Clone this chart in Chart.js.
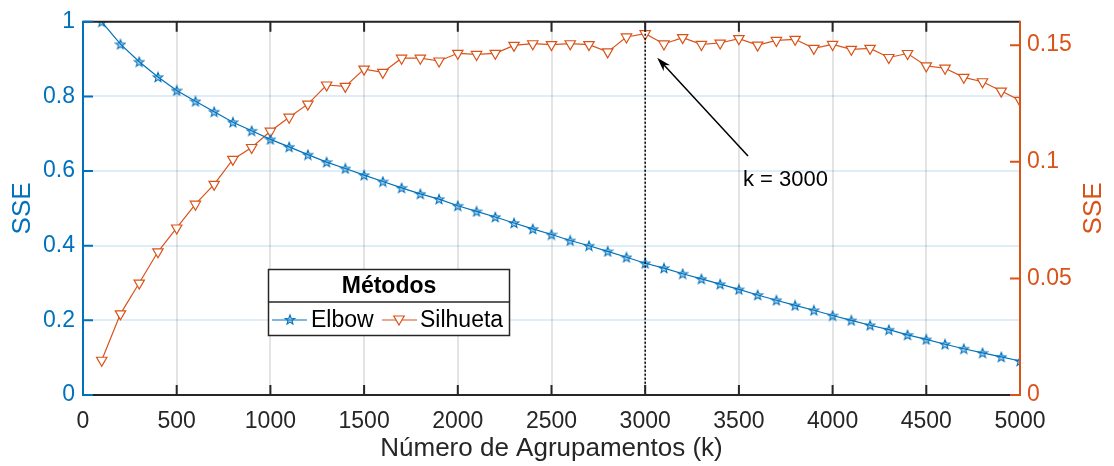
<!DOCTYPE html>
<html>
<head>
<meta charset="utf-8">
<script src="https://cdn.jsdelivr.net/npm/chart.js@4.4.1/dist/chart.umd.min.js"></script>
<style>
  body { margin: 0; background: #fff; }
  #wrap { width: 1114px; height: 466px; }
</style>
</head>
<body>
<div id="wrap"><canvas id="chart" width="1114" height="466"></canvas></div>
<script>
// número de agrupamentos
const kValues = [100, 200, 300, 400, 500, 600, 700, 800, 900, 1000,
  1100, 1200, 1300, 1400, 1500, 1600, 1700, 1800, 1900, 2000,
  2100, 2200, 2300, 2400, 2500, 2600, 2700, 2800, 2900, 3000,
  3100, 3200, 3300, 3400, 3500, 3600, 3700, 3800, 3900, 4000,
  4100, 4200, 4300, 4400, 4500, 4600, 4700, 4800, 4900, 5000];

// SSE normalizado (eixo esquerdo)
const elbowValues = [1.000, 0.940, 0.893, 0.852, 0.816, 0.787, 0.759, 0.731, 0.708, 0.685,
  0.665, 0.644, 0.624, 0.607, 0.589, 0.572, 0.555, 0.539, 0.525, 0.507,
  0.492, 0.477, 0.461, 0.445, 0.430, 0.414, 0.400, 0.385, 0.369, 0.353,
  0.340, 0.325, 0.311, 0.297, 0.283, 0.268, 0.254, 0.240, 0.227, 0.213,
  0.200, 0.187, 0.175, 0.161, 0.149, 0.136, 0.124, 0.113, 0.102, 0.091];

// silhueta (eixo direito)
const silhuetaValues = [0.0149, 0.0348, 0.0480, 0.0614, 0.0716, 0.0818, 0.0903, 0.1010, 0.1061, 0.1131,
  0.1191, 0.1247, 0.1329, 0.1323, 0.1397, 0.1383, 0.1444, 0.1444, 0.1432, 0.1465,
  0.1460, 0.1465, 0.1499, 0.1506, 0.1502, 0.1506, 0.1502, 0.1471, 0.1535, 0.1549,
  0.1505, 0.1532, 0.1503, 0.1509, 0.1528, 0.1500, 0.1520, 0.1525, 0.1486, 0.1503,
  0.1482, 0.1486, 0.1447, 0.1464, 0.1411, 0.1401, 0.1362, 0.1343, 0.1303, 0.1263];

const xTicks = [0, 500, 1000, 1500, 2000, 2500, 3000, 3500, 4000, 4500, 5000];
const leftTicks = [0, 0.2, 0.4, 0.6, 0.8, 1];
const rightTicks = [0, 0.05, 0.1, 0.15];
const bestK = 3000;

const BLUE = '#0072BD';
const ORANGE = '#D95319';
const DARK = '#262626';
const FONT = '"Liberation Sans", Arial, Helvetica, sans-serif';

Chart.defaults.font.family = FONT;

function drawStar(ctx, cx, cy, ro, ri) {
  ctx.beginPath();
  for (let i = 0; i < 10; i++) {
    const r = i % 2 === 0 ? ro : ri;
    const a = -Math.PI / 2 + i * Math.PI / 5;
    const px = cx + r * Math.cos(a), py = cy + r * Math.sin(a);
    if (i === 0) ctx.moveTo(px, py); else ctx.lineTo(px, py);
  }
  ctx.closePath();
  ctx.fillStyle = 'rgba(0,114,189,0.3)';
  ctx.fill();
  ctx.strokeStyle = BLUE;
  ctx.lineWidth = 1.1;
  ctx.stroke();
}

const starImg = document.createElement('canvas');
starImg.width = 12; starImg.height = 12;
drawStar(starImg.getContext('2d'), 6, 6.5, 5, 2.1);

function drawTriangle(ctx, cx, cy, r) {
  ctx.beginPath();
  ctx.moveTo(cx, cy + r);
  ctx.lineTo(cx + r * 0.866, cy - r / 2);
  ctx.lineTo(cx - r * 0.866, cy - r / 2);
  ctx.closePath();
  ctx.fillStyle = '#fff';
  ctx.fill();
  ctx.strokeStyle = ORANGE;
  ctx.lineWidth = 1.2;
  ctx.stroke();
}

const decorations = {
  id: 'decorations',
  afterDatasetsDraw(chart) {
    const ctx = chart.ctx;
    const a = chart.chartArea;
    const x = chart.scales.x, yl = chart.scales.y, yr = chart.scales.y2;
    ctx.save();

    // linha pontilhada em k = 3000
    const kx = x.getPixelForValue(bestK);
    ctx.strokeStyle = '#000';
    ctx.lineWidth = 1.5;
    ctx.setLineDash([2, 2]);
    ctx.beginPath();
    ctx.moveTo(kx, a.top);
    ctx.lineTo(kx, a.bottom);
    ctx.stroke();
    ctx.setLineDash([]);

    // caixa
    ctx.lineWidth = 2;
    ctx.strokeStyle = DARK;
    ctx.beginPath();
    ctx.moveTo(a.left, a.top); ctx.lineTo(a.right, a.top);
    ctx.moveTo(a.left, a.bottom); ctx.lineTo(a.right, a.bottom);
    xTicks.forEach(v => {
      const px = x.getPixelForValue(v);
      ctx.moveTo(px, a.top); ctx.lineTo(px, a.top + 10);
      ctx.moveTo(px, a.bottom); ctx.lineTo(px, a.bottom - 10);
    });
    ctx.stroke();

    ctx.strokeStyle = BLUE;
    ctx.beginPath();
    ctx.moveTo(a.left, a.top - 1); ctx.lineTo(a.left, a.bottom + 1);
    leftTicks.forEach(v => {
      const py = yl.getPixelForValue(v);
      ctx.moveTo(a.left, py); ctx.lineTo(a.left + 10, py);
    });
    ctx.stroke();

    ctx.strokeStyle = ORANGE;
    ctx.beginPath();
    ctx.moveTo(a.right, a.top - 1); ctx.lineTo(a.right, a.bottom + 1);
    rightTicks.forEach(v => {
      const py = yr.getPixelForValue(v);
      ctx.moveTo(a.right, py); ctx.lineTo(a.right - 10, py);
    });
    ctx.stroke();

    // títulos dos eixos
    ctx.font = '26px ' + FONT;
    ctx.textAlign = 'center';
    ctx.textBaseline = 'middle';
    ctx.fillStyle = DARK;
    ctx.fillText('Número de Agrupamentos (k)', (a.left + a.right) / 2, 449);
    const midY = (a.top + a.bottom) / 2;
    [[23, BLUE], [1094, ORANGE]].forEach(([tx, col]) => {
      ctx.save();
      ctx.translate(tx, midY);
      ctx.rotate(-Math.PI / 2);
      ctx.fillStyle = col;
      ctx.fillText('SSE', 0, 0);
      ctx.restore();
    });

    // seta e texto
    const tipX = kx + 12, tipY = yr.getPixelForValue(0.1549) + 24;
    const tailX = 748, tailY = 156;
    const ang = Math.atan2(tipY - tailY, tipX - tailX);
    ctx.strokeStyle = '#000';
    ctx.lineWidth = 1.5;
    ctx.beginPath();
    ctx.moveTo(tailX, tailY);
    ctx.lineTo(tipX - 8 * Math.cos(ang), tipY - 8 * Math.sin(ang));
    ctx.stroke();
    ctx.fillStyle = '#000';
    ctx.beginPath();
    ctx.moveTo(tipX, tipY);
    ctx.lineTo(tipX - 15 * Math.cos(ang - 0.3), tipY - 15 * Math.sin(ang - 0.3));
    ctx.lineTo(tipX - 10 * Math.cos(ang), tipY - 10 * Math.sin(ang));
    ctx.lineTo(tipX - 15 * Math.cos(ang + 0.3), tipY - 15 * Math.sin(ang + 0.3));
    ctx.closePath();
    ctx.fill();
    ctx.font = '22px ' + FONT;
    ctx.textAlign = 'left';
    ctx.fillText('k = 3000', 743, 180);

    // legenda
    ctx.fillStyle = '#fff';
    ctx.fillRect(268, 269, 242, 67);
    ctx.strokeStyle = DARK;
    ctx.lineWidth = 1.5;
    ctx.strokeRect(268.5, 269.5, 241, 66);
    ctx.beginPath();
    ctx.moveTo(268, 302); ctx.lineTo(510, 302);
    ctx.stroke();
    ctx.fillStyle = '#000';
    ctx.font = 'bold 23px ' + FONT;
    ctx.textAlign = 'center';
    ctx.fillText('Métodos', 389, 287);
    ctx.lineWidth = 1.2;
    ctx.strokeStyle = BLUE;
    ctx.beginPath(); ctx.moveTo(272, 320); ctx.lineTo(307, 320); ctx.stroke();
    drawStar(ctx, 290, 320, 5, 2.1);
    ctx.strokeStyle = ORANGE;
    ctx.lineWidth = 1.2;
    ctx.beginPath(); ctx.moveTo(382, 320); ctx.lineTo(417, 320); ctx.stroke();
    drawTriangle(ctx, 399, 319, 6);
    ctx.fillStyle = '#000';
    ctx.font = '23px ' + FONT;
    ctx.textAlign = 'left';
    ctx.fillText('Elbow', 311, 321);
    ctx.fillText('Silhueta', 420, 321);

    ctx.restore();
  }
};

new Chart(document.getElementById('chart'), {
  type: 'line',
  data: {
    datasets: [
      {
        label: 'Elbow',
        data: kValues.map((k, i) => ({ x: k, y: elbowValues[i] })),
        yAxisID: 'y',
        borderColor: BLUE,
        borderWidth: 1.2,
        pointStyle: starImg,
        pointRadius: 5,
        fill: false
      },
      {
        label: 'Silhueta',
        data: kValues.map((k, i) => ({ x: k, y: silhuetaValues[i] })),
        yAxisID: 'y2',
        borderColor: ORANGE,
        borderWidth: 1.2,
        pointStyle: 'triangle',
        pointRotation: 180,
        pointRadius: 6,
        pointBorderWidth: 1.2,
        pointBackgroundColor: '#fff',
        pointBorderColor: ORANGE,
        fill: false
      }
    ]
  },
  options: {
    responsive: false,
    animation: false,
    devicePixelRatio: 1,
    layout: { padding: { top: 19, left: 0, right: 0, bottom: 0 } },
    plugins: { legend: { display: false }, tooltip: { enabled: false } },
    scales: {
      x: {
        type: 'linear',
        min: 0, max: 5000,
        afterFit: s => { s.height = 71; },
        afterBuildTicks: s => { s.ticks = xTicks.map(v => ({ value: v })); },
        grid: { color: '#e4e4e4', lineWidth: 2, drawTicks: false },
        border: { display: false },
        ticks: { padding: 13, color: DARK, font: { size: 23 }, maxRotation: 0, callback: v => String(v) }
      },
      y: {
        position: 'left',
        min: 0, max: 1,
        afterFit: s => { s.width = 83; },
        afterBuildTicks: s => { s.ticks = leftTicks.map(v => ({ value: v })); },
        grid: { color: 'rgba(0,114,189,0.13)', lineWidth: 2, drawTicks: false },
        border: { display: false },
        ticks: { padding: 8, color: BLUE, font: { size: 23 }, callback: v => String(v) }
      },
      y2: {
        position: 'right',
        min: 0, max: 0.16,
        afterFit: s => { s.width = 94; },
        afterBuildTicks: s => { s.ticks = rightTicks.map(v => ({ value: v })); },
        grid: { display: false, drawTicks: false },
        border: { display: false },
        ticks: { padding: 7, color: ORANGE, font: { size: 23 }, callback: v => String(v) }
      }
    }
  },
  plugins: [decorations]
});
</script>
</body>
</html>
